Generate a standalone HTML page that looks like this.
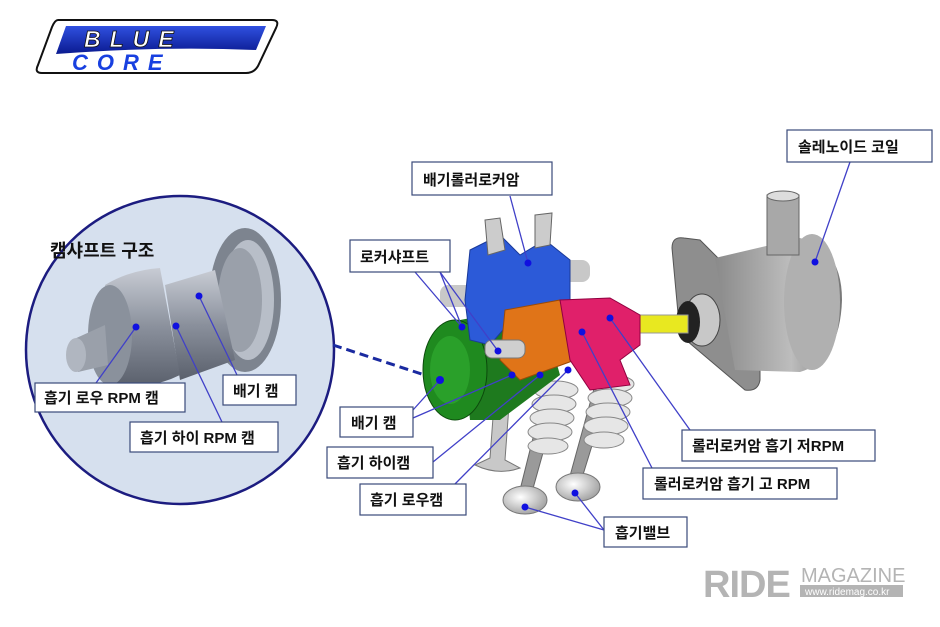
<!DOCTYPE html>
<html><head><meta charset="utf-8"><style>
html,body{margin:0;padding:0;background:#fff;width:940px;height:627px;overflow:hidden}
svg{display:block}
text{font-family:"Liberation Sans","Noto Sans CJK KR","NanumGothic",sans-serif;font-weight:bold}
.lb rect{fill:#fff;stroke:#3a4a7a;stroke-width:1.2}
.lb text{font-size:15px;fill:#111}
.ln{stroke:#4040c8;stroke-width:1.3;fill:none}
.dot{fill:#1010e0}
</style></head><body>
<svg width="940" height="627" viewBox="0 0 940 627">
<defs>
<linearGradient id="bl" x1="0" y1="0" x2="0" y2="1"><stop offset="0" stop-color="#3050e0"/><stop offset="1" stop-color="#0a1a90"/></linearGradient>
<linearGradient id="gr" x1="0" y1="0" x2="0" y2="1"><stop offset="0" stop-color="#c8ccd4"/><stop offset="0.5" stop-color="#8a909c"/><stop offset="1" stop-color="#5a606c"/></linearGradient>
<linearGradient id="sg" x1="0" y1="0" x2="1" y2="0"><stop offset="0" stop-color="#8a8a8a"/><stop offset="0.6" stop-color="#bdbdbd"/><stop offset="1" stop-color="#777"/></linearGradient>
<radialGradient id="vh" cx="0.4" cy="0.4" r="0.7"><stop offset="0" stop-color="#fff"/><stop offset="1" stop-color="#999"/></radialGradient>
</defs>
<!-- Blue core logo -->
<path d="M58 20 L272 20 Q280 20 276 28 L258 66 Q254 73 246 73 L42 73 Q34 73 38 65 L52 27 Q55 20 58 20 Z" fill="#fff" stroke="#111" stroke-width="2"/>
<path d="M66 26 L266 26 L256 50 Q160 46 56 54 Z" fill="url(#bl)"/>
<text x="84" y="47" font-size="23" fill="#fff" stroke="#111" stroke-width="0.8" font-style="italic" letter-spacing="9">BLUE</text>
<text x="72" y="70" font-size="22" fill="#1840e0" font-style="italic" letter-spacing="9">CORE</text>

<!-- Circle -->
<circle cx="180" cy="350" r="154" fill="#d6e0ee" stroke="#1c1c80" stroke-width="2.5"/>
<line x1="333" y1="345" x2="440" y2="380" stroke="#1a2aa0" stroke-width="3" stroke-dasharray="9,5"/>
<!-- camshaft in circle -->
<ellipse cx="245" cy="300" rx="36" ry="72" fill="#7d848f"/>
<ellipse cx="248" cy="300" rx="26" ry="60" fill="#b8bec8"/>
<ellipse cx="240" cy="300" rx="22" ry="52" fill="#9aa0aa"/>
<path d="M165 285 L215 270 L235 360 L180 380 Z" fill="url(#gr)"/>
<path d="M105 285 Q130 270 160 268 L180 375 Q150 390 115 385 Z" fill="url(#gr)"/>
<ellipse cx="110" cy="335" rx="22" ry="50" fill="#8a919c"/>
<path d="M72 340 L105 325 L108 365 L78 372 Z" fill="#9aa0aa"/>
<ellipse cx="76" cy="355" rx="10" ry="17" fill="#b0b6c0"/>
<text x="50" y="257" font-size="18" fill="#111">캠샤프트 구조</text>
<line class="ln" x1="136" y1="327" x2="96" y2="383"/><circle class="dot" cx="136" cy="327" r="3.5"/>
<line class="ln" x1="176" y1="326" x2="222" y2="422"/><circle class="dot" cx="176" cy="326" r="3.5"/>
<line class="ln" x1="199" y1="296" x2="237" y2="375"/><circle class="dot" cx="199" cy="296" r="3.5"/>
<g class="lb"><rect x="35" y="383" width="150" height="29"/><text x="44" y="403">흡기 로우 RPM 캠</text></g>
<g class="lb"><rect x="223" y="375" width="73" height="30"/><text x="233" y="396">배기 캠</text></g>
<g class="lb"><rect x="130" y="422" width="148" height="30"/><text x="140" y="443">흡기 하이 RPM 캠</text></g>

<!-- solenoid -->
<path d="M672 248 Q672 236 684 238 L700 240 L760 300 L760 380 Q758 392 745 390 L680 335 Z" fill="#8e8e8e" stroke="#555"/>
<path d="M715 258 L800 238 Q842 248 842 300 Q840 360 800 372 L735 370 Z" fill="url(#sg)"/>
<ellipse cx="812" cy="302" rx="28" ry="68" fill="#b0b0b0"/>
<rect x="767" y="195" width="32" height="60" fill="#a8a8a8" stroke="#666"/>
<ellipse cx="783" cy="196" rx="16" ry="5" fill="#ddd" stroke="#666"/>
<ellipse cx="702" cy="320" rx="18" ry="26" fill="#c8c8c8" stroke="#444"/>
<ellipse cx="688" cy="322" rx="12" ry="21" fill="#222"/>
<rect x="640" y="315" width="48" height="18" fill="#e8e820" stroke="#999"/>
<!-- valves -->
<path d="M495 390 L510 392 L505 460 L520 468 Q498 476 475 465 L490 458 Z" fill="#c8c8c8" stroke="#777"/>
<path d="M545 390 L560 392 L532 492 L520 490 Z" fill="#9a9a9a" stroke="#666"/>
<path d="M595 385 L610 387 L582 478 L570 476 Z" fill="#9a9a9a" stroke="#666"/>
<ellipse cx="525" cy="500" rx="22" ry="14" fill="url(#vh)" stroke="#777"/>
<ellipse cx="578" cy="487" rx="22" ry="14" fill="url(#vh)" stroke="#777"/>
<g fill="#e6e6e6" stroke="#888">
<ellipse cx="556" cy="390" rx="22" ry="9"/><ellipse cx="554" cy="404" rx="22" ry="9"/><ellipse cx="552" cy="418" rx="22" ry="9"/><ellipse cx="550" cy="432" rx="22" ry="9"/><ellipse cx="548" cy="446" rx="20" ry="8"/>
<ellipse cx="612" cy="384" rx="22" ry="9"/><ellipse cx="610" cy="398" rx="22" ry="9"/><ellipse cx="608" cy="412" rx="22" ry="9"/><ellipse cx="606" cy="426" rx="22" ry="9"/><ellipse cx="604" cy="440" rx="20" ry="8"/>
</g>
<!-- green cam -->
<path d="M460 320 L540 305 L560 375 L500 420 L470 420 Z" fill="#1e7a1e"/>
<ellipse cx="455" cy="370" rx="32" ry="50" fill="#1f8a1f" stroke="#0c4a0c"/>
<ellipse cx="450" cy="370" rx="20" ry="34" fill="#2aa02a"/>
<!-- blue rocker -->
<rect x="440" y="285" width="40" height="22" rx="8" fill="#c8c8c8"/>
<rect x="560" y="260" width="30" height="22" rx="8" fill="#c8c8c8"/>
<path d="M470 250 L500 235 L520 255 L545 240 L570 260 L570 300 L520 310 L490 345 L470 340 L465 300 Z" fill="#2c5ad8" stroke="#1a3a9a"/>
<path d="M485 220 L500 218 L505 250 L488 255 Z M535 215 L552 213 L550 245 L535 248 Z" fill="#ccc" stroke="#666"/>
<!-- orange & pink -->
<path d="M505 310 L560 300 L575 360 L520 380 L500 360 Z" fill="#e07418" stroke="#9a4a08"/>
<path d="M560 300 L610 298 L640 315 L640 345 L620 360 L630 385 L590 390 L570 360 Z" fill="#e0206a" stroke="#900040"/>
<rect x="485" y="340" width="40" height="18" rx="7" fill="#cfcfcf" stroke="#777"/>
<!-- connectors -->
<g class="ln">
<line x1="528" y1="263" x2="510" y2="196"/>
<line x1="462" y1="327" x2="440" y2="272"/><line x1="498" y1="351" x2="440" y2="272"/><line x1="462" y1="327" x2="415" y2="272"/>
<line x1="815" y1="262" x2="850" y2="162"/>
<line x1="440" y1="380" x2="413" y2="410"/>
<line x1="512" y1="375" x2="413" y2="418"/>
<line x1="540" y1="375" x2="433" y2="462"/>
<line x1="568" y1="370" x2="452" y2="487"/>
<line x1="610" y1="318" x2="690" y2="430"/>
<line x1="582" y1="332" x2="652" y2="468"/>
<line x1="525" y1="507" x2="604" y2="530"/>
<line x1="575" y1="493" x2="604" y2="530"/>
</g>
<g class="dot">
<circle cx="528" cy="263" r="3.5"/><circle cx="462" cy="327" r="3.5"/><circle cx="498" cy="351" r="3.5"/>
<circle cx="815" cy="262" r="3.5"/><circle cx="440" cy="380" r="4"/><circle cx="512" cy="375" r="3.5"/>
<circle cx="540" cy="375" r="3.5"/><circle cx="568" cy="370" r="3.5"/><circle cx="610" cy="318" r="3.5"/>
<circle cx="582" cy="332" r="3.5"/><circle cx="525" cy="507" r="3.5"/><circle cx="575" cy="493" r="3.5"/>
</g>
<!-- labels -->
<g class="lb">
<rect x="412" y="162" width="140" height="33"/><text x="423" y="185">배기롤러로커암</text>
<rect x="350" y="240" width="100" height="32"/><text x="360" y="262">로커샤프트</text>
<rect x="787" y="130" width="145" height="32"/><text x="798" y="152">솔레노이드 코일</text>
<rect x="340" y="407" width="73" height="30"/><text x="351" y="428">배기 캠</text>
<rect x="327" y="447" width="106" height="31"/><text x="337" y="468">흡기 하이캠</text>
<rect x="360" y="484" width="106" height="31"/><text x="370" y="505">흡기 로우캠</text>
<rect x="682" y="430" width="193" height="31"/><text x="692" y="451">롤러로커암  흡기 저RPM</text>
<rect x="643" y="468" width="194" height="31"/><text x="654" y="489">롤러로커암 흡기 고 RPM</text>
<rect x="604" y="517" width="83" height="30"/><text x="615" y="538">흡기밸브</text>
</g>
<!-- ride magazine -->
<text x="703" y="597" font-size="38" fill="#b4b4b4" letter-spacing="-1">RIDE</text>
<text x="801" y="582" font-size="20" fill="#b4b4b4" style="font-weight:normal">MAGAZINE</text>
<rect x="800" y="585" width="103" height="12" fill="#b4b4b4"/>
<text x="805" y="595" font-size="10" fill="#fff" style="font-weight:normal">www.ridemag.co.kr</text>
</svg>
</body></html>
